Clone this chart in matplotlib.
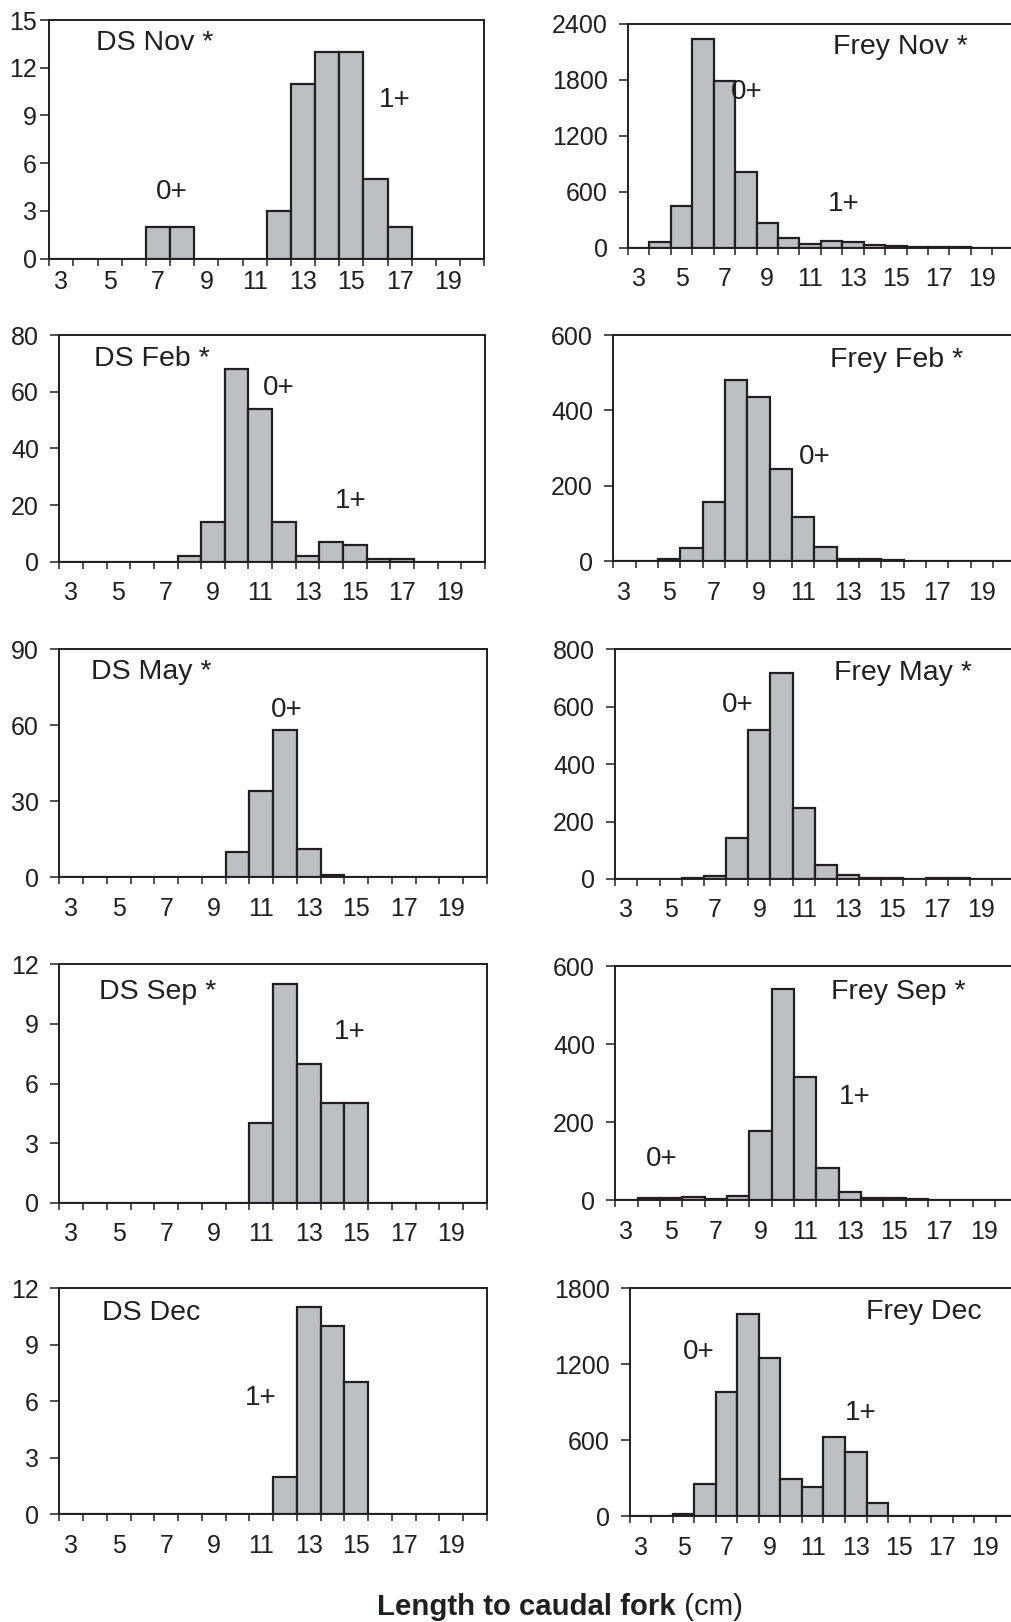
import numpy as np
import matplotlib.pyplot as plt

ink = '#231f20'
plt.rcParams['font.family'] = ['Liberation Sans', 'DejaVu Sans']
plt.rcParams['text.color'] = ink
plt.rcParams['axes.edgecolor'] = ink
plt.rcParams['xtick.color'] = ink
plt.rcParams['ytick.color'] = ink

# 1 cm length classes
lengths = np.arange(3, 21)
tick_labels = [3, 5, 7, 9, 11, 13, 15, 17, 19]

# counts per length class, Dry Stream (DS) and Frey
ds_nov = [0, 0, 0, 0, 2, 2, 0, 0, 0, 3, 11, 13, 13, 5, 2, 0, 0, 0]
ds_feb = [0, 0, 0, 0, 0, 2, 14, 68, 54, 14, 2, 7, 6, 1, 1, 0, 0, 0]
ds_may = [0, 0, 0, 0, 0, 0, 0, 10, 34, 58, 11, 1, 0, 0, 0, 0, 0, 0]
ds_sep = [0, 0, 0, 0, 0, 0, 0, 0, 4, 11, 7, 5, 5, 0, 0, 0, 0, 0]
ds_dec = [0, 0, 0, 0, 0, 0, 0, 0, 0, 2, 11, 10, 7, 0, 0, 0, 0, 0]

frey_nov = [2, 60, 450, 2240, 1785, 815, 260, 100, 43, 75, 64, 29, 21, 7, 7, 5, 2, 0]
frey_feb = [0, 0, 5, 35, 156, 482, 436, 245, 118, 37, 7, 5, 3, 2, 2, 1, 2, 2]
frey_may = [0, 0, 0, 2, 12, 144, 520, 717, 247, 50, 13, 5, 2, 0, 4, 2, 0, 0]
frey_sep = [2, 5, 7, 9, 3, 10, 177, 540, 317, 82, 22, 6, 5, 4, 0, 0, 0, 0]
frey_dec = [0, 0, 16, 258, 979, 1595, 1247, 297, 229, 629, 508, 103, 5, 0, 0, 5, 0, 0]

W, H = 1012, 1622
fig = plt.figure(figsize=(W / 100, H / 100), dpi=100)

# (title, counts, ymax, ystep, [x0, x1, top, bottom] in px, title xy, cohort labels, tight pads)
panels = [
    ('DS Nov *', ds_nov, 15, 3, [49.3, 484.3, 20, 258.7], (4.43, 13.56),
     [('0+', 7.58, 4.2), ('1+', 16.79, 10.0)], True),
    ('Frey Nov *', frey_nov, 2400, 600, [628, 1013.7, 23.7, 247.7], (12.05, 2153),
     [('0+', 8.05, 1671), ('1+', 12.57, 468)], False),
    ('DS Feb *', ds_feb, 80, 20, [59.3, 485, 335, 561.7], (3.97, 71.4),
     [('0+', 11.80, 61.2), ('1+', 14.83, 21.5)], False),
    ('Frey Feb *', frey_feb, 600, 200, [613.3, 1015.3, 335, 561.3], (12.20, 535),
     [('0+', 11.54, 277)], False),
    ('DS May *', ds_may, 90, 30, [59.3, 487, 649.3, 877.3], (3.82, 81.2),
     [('0+', 12.08, 66.0)], False),
    ('Frey May *', frey_may, 800, 200, [615.3, 1014.3, 649.3, 879], (12.38, 716),
     [('0+', 8.04, 606)], False),
    ('DS Sep *', ds_sep, 12, 3, [59.3, 487, 964.3, 1202.7], (4.17, 10.62),
     [('1+', 14.73, 8.61)], False),
    ('Frey Sep *', frey_sep, 600, 200, [615.3, 1017.3, 966, 1200.3], (12.16, 534),
     [('1+', 13.20, 265), ('0+', 4.57, 105)], False),
    ('DS Dec', ds_dec, 12, 3, [59.3, 487, 1288.3, 1514.3], (4.28, 10.67),
     [('1+', 10.98, 6.16)], False),
    ('Frey Dec', frey_dec, 1800, 600, [630, 1017, 1288.3, 1516.3], (13.48, 1615),
     [('0+', 5.69, 1300), ('1+', 13.24, 813)], False),
]

for title, counts, ymax, ystep, rect, title_xy, cohorts, tight in panels:
    x0, x1, top, bottom = rect
    ax = fig.add_axes([x0 / W, 1 - bottom / H, (x1 - x0) / W, (bottom - top) / H])
    ax.bar(lengths, counts, width=1.0, color='#bebfc3', edgecolor=ink, linewidth=1.6)
    ax.set_xlim(2.5, 20.5)
    ax.set_ylim(0, ymax)
    for sp in ax.spines.values():
        sp.set_linewidth(1.4)

    ax.set_yticks(np.arange(0, ymax + 1, ystep))
    ax.tick_params(axis='y', direction='out', length=6.3, width=1.1,
                   labelsize=18, pad=2.5 if tight else 8.4)

    # tick marks on class boundaries, labels centred in the classes
    ax.set_xticks(np.arange(2.5, 21, 1.0))
    ax.set_xticklabels([])
    ax.set_xticks(tick_labels, minor=True)
    ax.set_xticklabels([str(v) for v in tick_labels], minor=True)
    ax.tick_params(axis='x', which='major', direction='out', length=4.8, width=1.1)
    ax.tick_params(axis='x', which='minor', length=0, labelsize=18,
                   pad=8.2 if tight else 14.0)

    ax.text(title_xy[0], title_xy[1], title, fontsize=20.5, ha='left', va='center')
    for txt, tx, ty in cohorts:
        ax.text(tx, ty, txt, fontsize=20, ha='center', va='center')

lab = fig.text(377 / W, 1 - 1615 / H, 'Length to caudal fork', fontsize=21.2,
               fontweight='bold', ha='left', va='baseline')
ax.annotate(' (cm)', xy=(1, 0), xycoords=lab, fontsize=21.2, ha='left',
            va='bottom', annotation_clip=False)

fig.savefig('out.png', dpi=100)
